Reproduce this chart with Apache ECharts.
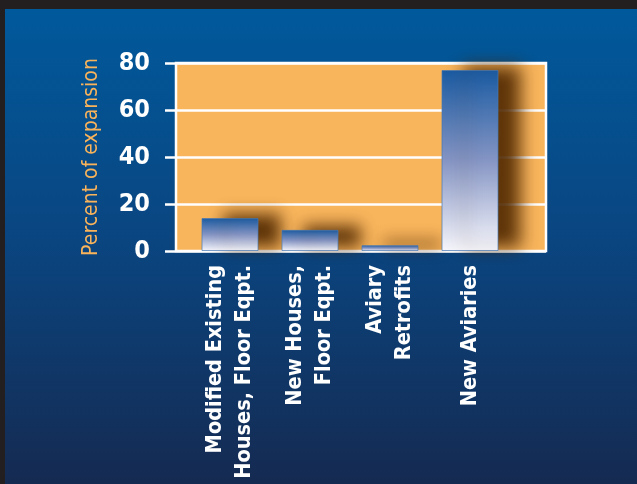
<!DOCTYPE html>
<html>
<head>
<meta charset="utf-8">
<script src="https://cdn.jsdelivr.net/npm/echarts@6/dist/echarts.min.js"></script>
<style>
  html, body { margin: 0; padding: 0; background: #231f20; }
  #chart { width: 637px; height: 484px; }
</style>
</head>
<body>
<div id="chart"></div>
<script>
// Share of expansion by housing option
const categories = [
  'Modified Existing\nHouses, Floor Eqpt.',
  'New Houses,\nFloor Eqpt.',
  'Aviary\nRetrofits',
  'New Aviaries'
];
const expansionPercent = [14, 9, 2.5, 77];
const yTicks = { min: 0, max: 80, interval: 20 };

const condensed = '"Liberation Sans Narrow", "DejaVu Sans Condensed", sans-serif';

const chart = echarts.init(document.getElementById('chart'), null, { renderer: 'canvas' });

const barGradient = new echarts.graphic.LinearGradient(0, 0, 0, 1, [
  { offset: 0, color: '#1a5ba2' },
  { offset: 0.5, color: '#8595c4' },
  { offset: 1, color: '#f6f6fb' }
]);

chart.setOption({
  animation: false,
  backgroundColor: new echarts.graphic.LinearGradient(0, 0, 0, 1, [
    { offset: 0, color: '#005a9d' },
    { offset: 0.5, color: '#0a4580' },
    { offset: 1, color: '#152a51' }
  ]),
  graphic: [
    { type: 'rect', left: 0, top: 0, shape: { width: 637, height: 9 }, style: { fill: '#231f20' }, z: 100 },
    { type: 'rect', left: 0, top: 0, shape: { width: 5, height: 484 }, style: { fill: '#231f20' }, z: 100 }
  ],
  grid: [
    {
      // orange plotting frame
      left: 176, top: 63, width: 370, height: 188,
      outerBoundsMode: 'none',
      containLabel: false,
      show: true,
      backgroundColor: '#f9b55c',
      borderColor: '#ffffff',
      borderWidth: 2.5
    },
    {
      // bar placement
      left: 190, top: 63, width: 320, height: 188,
      outerBoundsMode: 'none',
      containLabel: false
    }
  ],
  xAxis: [
    { gridIndex: 0, type: 'category', data: categories, show: false },
    {
      gridIndex: 1,
      type: 'category',
      data: categories,
      axisLine: { show: false },
      axisTick: { show: false },
      axisLabel: {
        rotate: 90,
        margin: 14,
        color: '#ffffff',
        fontFamily: condensed,
        fontWeight: 'bold',
        fontSize: 21.5,
        lineHeight: 29
      }
    }
  ],
  yAxis: [
    {
      gridIndex: 0,
      type: 'value',
      min: yTicks.min, max: yTicks.max, interval: yTicks.interval,
      name: 'Percent of expansion',
      nameLocation: 'middle',
      nameGap: 74,
      nameTextStyle: {
        color: '#f9b35a',
        fontFamily: condensed,
        fontSize: 21
      },
      axisLine: { show: false },
      axisTick: { show: true, inside: false, length: 11, lineStyle: { color: '#ffffff', width: 2.5 } },
      axisLabel: {
        margin: 26,
        color: '#ffffff',
        fontFamily: condensed,
        fontWeight: 'bold',
        fontSize: 25
      },
      splitLine: { show: true, lineStyle: { color: '#ffffff', width: 2.5 } }
    },
    {
      gridIndex: 1,
      type: 'value',
      min: yTicks.min, max: yTicks.max, interval: yTicks.interval,
      show: false,
      splitLine: { show: false }
    }
  ],
  series: [
    {
      type: 'bar',
      xAxisIndex: 1,
      yAxisIndex: 1,
      data: expansionPercent,
      barWidth: 57,
      z: 5,
      itemStyle: {
        color: barGradient,
        borderColor: 'rgba(70,120,180,0.7)',
        borderWidth: 1,
        shadowColor: 'rgba(80,40,0,0.9)',
        shadowBlur: 16,
        shadowOffsetX: 22,
        shadowOffsetY: -4
      }
    }
  ]
});
</script>
</body>
</html>
